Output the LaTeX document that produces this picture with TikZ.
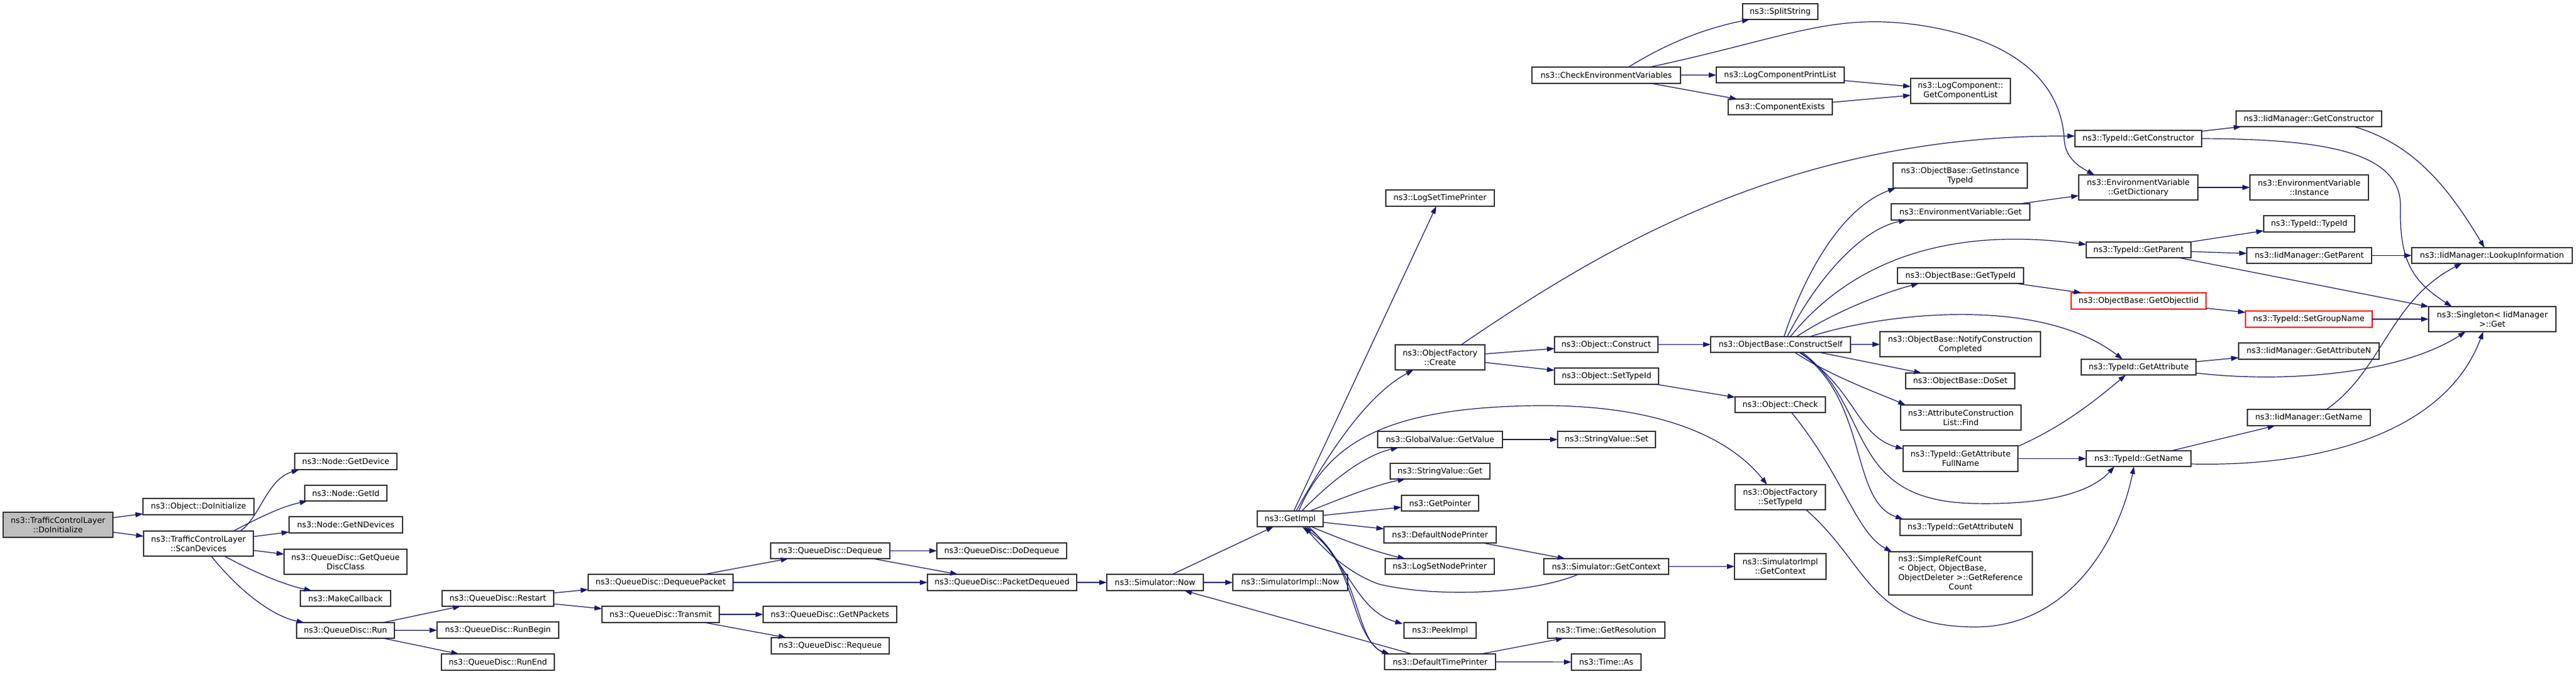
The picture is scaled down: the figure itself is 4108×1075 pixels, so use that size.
\documentclass[tikz,border=0pt]{standalone}
\usepackage{fontspec}
\setmainfont{DejaVu Sans}
\usetikzlibrary{arrows.meta,calc}
\definecolor{edgec}{HTML}{191970}
\definecolor{boxc}{HTML}{333333}
\definecolor{rootc}{HTML}{BFBFBF}
\newcommand{\nd}[7][]{\node[box,#1,minimum width={#5-#3},minimum height={#6-#4}] (#2) at ({(#3+#5)/2},{(#4+#6)/2}) {#7};}
\begin{document}
\begin{tikzpicture}[x=1pt,y=-1pt,
  box/.style={draw=boxc,line width=1.2pt,fill=white,inner sep=1pt,outer sep=0pt,align=center,font=\fontsize{12.7}{15}\selectfont,text=black},
  cg/.style={draw=edgec,line width=1.2pt,-{Triangle[length=12pt,width=8pt]}}]
\useasboundingbox (0,0) rectangle (4108,1075);
\fill[white] (0,0) rectangle (4108,1075);
% nodes
\nd[fill=rootc]{TCL}{5}{817}{180}{857}{ns3::TrafficControlLayer\\::DoInitialize}
\nd{ObjDo}{228}{795}{405}{821}{ns3::Object::DoInitialize}
\nd{SD}{229}{847}{404}{887}{ns3::TrafficControlLayer\\::ScanDevices}
\nd{GetDevice}{470}{723}{633}{749}{ns3::Node::GetDevice}
\nd{GetId}{486}{774}{617}{799}{ns3::Node::GetId}
\nd{GetND}{461}{824}{642}{850}{ns3::Node::GetNDevices}
\nd{GQDC}{453}{876}{649}{916}{ns3::QueueDisc::GetQueue\\DiscClass}
\nd{MakeCB}{479}{942}{623}{967}{ns3::MakeCallback}
\nd{Run}{473}{993}{629}{1018}{ns3::QueueDisc::Run}
\nd{Restart}{705}{942}{883}{967}{ns3::QueueDisc::Restart}
\nd{RunBegin}{697}{992}{891}{1018}{ns3::QueueDisc::RunBegin}
\nd{RunEnd}{704}{1043}{884}{1069}{ns3::QueueDisc::RunEnd}
\nd{DQP}{938}{916}{1169}{942}{ns3::QueueDisc::DequeuePacket}
\nd{Transmit}{960}{967}{1147}{993}{ns3::QueueDisc::Transmit}
\nd{Dequeue}{1229}{866}{1419}{891}{ns3::QueueDisc::Dequeue}
\nd{GetNP}{1217}{967}{1430}{993}{ns3::QueueDisc::GetNPackets}
\nd{Requeue}{1230}{1017}{1418}{1043}{ns3::QueueDisc::Requeue}
\nd{DoDequeue}{1494}{866}{1701}{891}{ns3::QueueDisc::DoDequeue}
\nd{PD}{1479}{916}{1717}{942}{ns3::QueueDisc::PacketDequeued}
\nd{SimNow}{1765}{916}{1919}{942}{ns3::Simulator::Now}
\nd{SimImplNow}{1966}{916}{2149}{942}{ns3::SimulatorImpl::Now}
\nd{GetImpl}{2005}{815}{2110}{840}{ns3::GetImpl}
\nd{LSTP}{2210}{303}{2383}{329}{ns3::LogSetTimePrinter}
\nd{OFC}{2225}{550}{2368}{590}{ns3::ObjectFactory\\::Create}
\nd{GVGV}{2197}{688}{2396}{714}{ns3::GlobalValue::GetValue}
\nd{SVG}{2217}{739}{2376}{764}{ns3::StringValue::Get}
\nd{GetPtr}{2235}{790}{2358}{815}{ns3::GetPointer}
\nd{DNP}{2207}{840}{2386}{866}{ns3::DefaultNodePrinter}
\nd{LSNP}{2209}{891}{2383}{916}{ns3::LogSetNodePrinter}
\nd{PeekImpl}{2239}{993}{2354}{1018}{ns3::PeekImpl}
\nd{DTP}{2208}{1043}{2385}{1068}{ns3::DefaultTimePrinter}
\nd{CEV}{2443}{107}{2680}{133}{ns3::CheckEnvironmentVariables}
\nd{OCon}{2479}{537}{2644}{562}{ns3::Object::Construct}
\nd{OSTI}{2479}{587}{2645}{613}{ns3::Object::SetTypeId}
\nd{SVS}{2484}{688}{2640}{714}{ns3::StringValue::Set}
\nd{SGC}{2462}{891}{2661}{916}{ns3::Simulator::GetContext}
\nd{TGR}{2468}{992}{2655}{1018}{ns3::Time::GetResolution}
\nd{TAs}{2506}{1043}{2617}{1069}{ns3::Time::As}
\nd{SplitS}{2779}{6}{2899}{31}{ns3::SplitString}
\nd{LCPL}{2737}{107}{2941}{132}{ns3::LogComponentPrintList}
\nd{CompEx}{2756}{158}{2922}{183}{ns3::ComponentExists}
\nd{CS}{2728}{537}{2951}{562}{ns3::ObjectBase::ConstructSelf}
\nd{OCheck}{2767}{633}{2911}{658}{ns3::Object::Check}
\nd{OFSTI}{2767}{773}{2911}{813}{ns3::ObjectFactory\\::SetTypeId}
\nd{SIGC}{2766}{883}{2912}{924}{ns3::SimulatorImpl\\::GetContext}
\nd{LCGCL}{3047}{125}{3206}{165}{ns3::LogComponent::\\GetComponentList}
\nd{OBGITI}{3019}{260}{3233}{300}{ns3::ObjectBase::GetInstance\\TypeId}
\nd{EVG}{3016}{325}{3237}{351}{ns3::EnvironmentVariable::Get}
\nd{OBGTI}{3026}{427}{3227}{452}{ns3::ObjectBase::GetTypeId}
\nd{NCC}{2998}{529}{3254}{569}{ns3::ObjectBase::NotifyConstruction\\Completed}
\nd{DoSet}{3039}{595}{3213}{620}{ns3::ObjectBase::DoSet}
\nd{ACLF}{3031}{646}{3223}{686}{ns3::AttributeConstruction\\List::Find}
\nd{GAFN}{3035}{711}{3218}{752}{ns3::TypeId::GetAttribute\\FullName}
\nd{TGAN}{3030}{828}{3223}{854}{ns3::TypeId::GetAttributeN}
\nd{SRC}{3012}{880}{3241}{949}{\begin{tabular}{@{}l@{}}ns3::SimpleRefCount\\{<} Object, ObjectBase,\\ ObjectDeleter {>}::GetReference\\\multicolumn{1}{@{}c@{}}{Count}\end{tabular}}
\nd{TGC}{3309}{208}{3511}{234}{ns3::TypeId::GetConstructor}
\nd{EVGD}{3315}{279}{3505}{319}{ns3::EnvironmentVariable\\::GetDictionary}
\nd{TGP}{3327}{386}{3494}{411}{ns3::TypeId::GetParent}
\nd[draw=red]{GOI}{3303}{467}{3518}{493}{ns3::ObjectBase::GetObjectIid}
\nd{TGA}{3319}{573}{3502}{598}{ns3::TypeId::GetAttribute}
\nd{TGN}{3327}{719}{3494}{744}{ns3::TypeId::GetName}
\nd{IMGC}{3566}{177}{3798}{202}{ns3::IidManager::GetConstructor}
\nd{EVI}{3588}{279}{3777}{319}{ns3::EnvironmentVariable\\::Instance}
\nd{TTI}{3610}{344}{3755}{370}{ns3::TypeId::TypeId}
\nd{IMGP}{3583}{395}{3782}{420}{ns3::IidManager::GetParent}
\nd[draw=red]{SGN}{3581}{496}{3783}{522}{ns3::TypeId::SetGroupName}
\nd{IMGAN}{3570}{547}{3794}{573}{ns3::IidManager::GetAttributeN}
\nd{IMGN}{3584}{653}{3780}{679}{ns3::IidManager::GetName}
\nd{LUI}{3846}{395}{4102}{420}{ns3::IidManager::LookupInformation}
\nd{SG}{3873}{489}{4076}{529}{ns3::Singleton{<} IidManager\\{>}::Get}
% edges
\draw[cg] (TCL) -- (ObjDo);
\draw[cg] (TCL) -- (SD);
\draw[cg] ($(SD.north west)+(154,0)$) .. controls (415,825) and (425,765) .. ($(GetDevice.north west)+(7,26)$);
\draw[cg] ($(SD.north west)+(143,0)$) .. controls (420,822) and (450,808) .. ($(GetId.north west)+(4,25)$);
\draw[cg] (SD) -- (GetND);
\draw[cg] (SD) -- (GQDC);
\draw[cg] ($(SD.north west)+(129,40)$) .. controls (400,910) and (450,932) .. ($(MakeCB.north west)+(18,0)$);
\draw[cg] ($(SD.north west)+(108,40)$) .. controls (375,935) and (430,982) .. ($(Run.north west)+(12,0)$);
\draw[cg] (Run) -- (Restart);
\draw[cg] (Run) -- (RunBegin);
\draw[cg] (Run) -- (RunEnd);
\draw[cg] (Restart) -- (DQP);
\draw[cg] (Restart) -- (Transmit);
\draw[cg] (DQP) -- (Dequeue);
\draw[cg] (DQP) -- (PD);
\draw[cg] (Dequeue) -- (DoDequeue);
\draw[cg] (Dequeue) -- (PD);
\draw[cg] (Transmit) -- (GetNP);
\draw[cg] (Transmit) -- (Requeue);
\draw[cg] (PD) -- (SimNow);
\draw[cg] (SimNow) -- (SimImplNow);
\draw[cg] (SimNow) -- (GetImpl);
\draw[cg] (GetImpl) -- (LSTP);
\draw[cg] ($(GetImpl.north west)+(62,0)$) .. controls (2120,720) and (2180,630) .. ($(OFC.north west)+(29,40)$);
\draw[cg] ($(GetImpl.north west)+(66,0)$) .. controls (2120,700) and (2220,650) .. (2450,647) .. controls (2650,645) and (2760,700) .. ($(OFSTI.north west)+(51,0)$);
\draw[cg] ($(GetImpl.north west)+(71,0)$) .. controls (2130,760) and (2180,725) .. ($(GVGV.north west)+(33,26)$);
\draw[cg] ($(GetImpl.north west)+(84,0)$) .. controls (2150,790) and (2200,772) .. ($(SVG.north west)+(24,25)$);
\draw[cg] (GetImpl) -- (GetPtr);
\draw[cg] (GetImpl) -- (DNP);
\draw[cg] ($(GetImpl.north west)+(86,25)$) .. controls (2150,865) and (2200,882) .. ($(LSNP.north west)+(32,0)$);
\draw[cg] ($(GetImpl.north west)+(82,25)$) .. controls (2150,900) and (2165,975) .. ($(PeekImpl.north west)+(-2,2)$);
\draw[cg] ($(GetImpl.north west)+(78,25)$) .. controls (2170,900) and (2160,1025) .. ($(DTP.north west)+(8,0)$);
\draw[cg] ($(DTP.north west)+(1,0)$) .. controls (2150,1015) and (2165,895) .. ($(GetImpl.north west)+(72,26)$);
\draw[cg] ($(SGC.north west)+(55,25)$) .. controls (2450,945) and (2300,955) .. (2200,932) .. controls (2150,915) and (2110,875) .. ($(GetImpl.north west)+(75,25)$);
\draw[cg] (DNP) -- (SGC);
\draw[cg] (DTP) -- (SimNow);
\draw[cg] (DTP) -- (TGR);
\draw[cg] (DTP) -- (TAs);
\draw[cg] (GVGV) -- (SVS);
\draw[cg] (SGC) -- (SIGC);
\draw[cg] ($(OFC.north west)+(105,0)$) .. controls (2550,400) and (2850,215) .. ($(TGC.north west)+(0,9)$);
\draw[cg] (OFC) -- (OCon);
\draw[cg] (OFC) -- (OSTI);
\draw[cg] (OCon) -- (CS);
\draw[cg] (OSTI) -- (OCheck);
\draw[cg] ($(OCheck.north west)+(90,25)$) .. controls (2940,760) and (2960,850) .. ($(SRC.north west)+(5,0)$);
\draw[cg] ($(OFSTI.north west)+(113,40)$) .. controls (2980,900) and (2980,1000) .. (3150,1000) .. controls (3300,1000) and (3380,860) .. ($(TGN.north west)+(76,25)$);
\draw[cg] ($(CS.north west)+(146,25)$) .. controls (2990,650) and (2940,800) .. (3150,803) .. controls (3250,805) and (3330,790) .. ($(TGN.north west)+(45,25)$);
\draw[cg] (CS) -- (NCC);
\draw[cg] (CS) -- (DoSet);
\draw[cg] ($(CS.north west)+(134,25)$) .. controls (2920,600) and (2990,625) .. ($(ACLF.north west)+(8,0)$);
\draw[cg] ($(CS.north west)+(141,25)$) .. controls (2960,620) and (2960,695) .. ($(GAFN.north west)+(0,5)$);
\draw[cg] ($(CS.north west)+(143,25)$) .. controls (2980,640) and (2950,800) .. ($(TGAN.north west)+(5,0)$);
\draw[cg] ($(CS.north west)+(117,0)$) .. controls (2880,430) and (2940,330) .. ($(OBGITI.north west)+(4,40)$);
\draw[cg] ($(CS.north west)+(122,0)$) .. controls (2900,440) and (2970,365) .. ($(EVG.north west)+(24,26)$);
\draw[cg] ($(CS.north west)+(127,0)$) .. controls (2950,420) and (3100,360) .. ($(TGP.north west)+(0,4)$);
\draw[cg] ($(CS.north west)+(137,0)$) .. controls (2920,500) and (3000,468) .. ($(OBGTI.north west)+(34,25)$);
\draw[cg] ($(CS.north west)+(158,0)$) .. controls (3000,500) and (3250,470) .. ($(TGA.north west)+(66,0)$);
\draw[cg] (EVG) -- (EVGD);
\draw[cg] (OBGTI) -- (GOI);
\draw[cg] ($(CEV.north west)+(154,0)$) .. controls (2660,68) and (2720,45) .. ($(SplitS.north west)+(11,25)$);
\draw[cg] (CEV) -- (LCPL);
\draw[cg] (CEV) -- (CompEx);
\draw[cg] ($(CEV.north west)+(188,0)$) .. controls (2850,60) and (2920,20) .. (3060,40) .. controls (3260,70) and (3290,170) .. (3292,225) .. controls (3295,255) and (3320,268) .. ($(EVGD.north west)+(25,0)$);
\draw[cg] (LCPL) -- (LCGCL);
\draw[cg] (CompEx) -- (LCGCL);
\draw[cg] (TGC) -- (IMGC);
\draw[cg] (TGC.east) .. controls (3700,222) and (3830,240) .. (3828,330) .. controls (3826,420) and (3850,450) .. ($(SG.north west)+(37,0)$);
\draw[cg] (EVGD) -- (EVI);
\draw[cg] (TGP) -- (TTI);
\draw[cg] (TGP) -- (IMGP);
\draw[cg] (TGP) -- (SG);
\draw[cg] (IMGP) -- (LUI);
\draw[cg] ($(IMGC.north west)+(188,25)$) .. controls (3850,230) and (3905,300) .. ($(LUI.north west)+(116,0)$);
\draw[cg] ($(IMGN.north west)+(126,0)$) .. controls (3800,590) and (3810,480) .. ($(LUI.north west)+(80,25)$);
\draw[cg] (GOI) -- (SGN);
\draw[cg] (SGN) -- (SG);
\draw[cg] (TGA) -- (IMGAN);
\draw[cg] ($(TGA.north west)+(183,22)$) .. controls (3650,612) and (3830,595) .. ($(SG.north west)+(59,40)$);
\draw[cg] ($(GAFN.north west)+(183,1)$) .. controls (3290,680) and (3340,640) .. ($(TGA.north west)+(71,25)$);
\draw[cg] (GAFN) -- (TGN);
\draw[cg] (TGN) -- (IMGN);
\draw[cg] ($(TGN.north west)+(167,21)$) .. controls (3700,745) and (3900,690) .. ($(SG.north west)+(87,40)$);
\end{tikzpicture}
\end{document}
